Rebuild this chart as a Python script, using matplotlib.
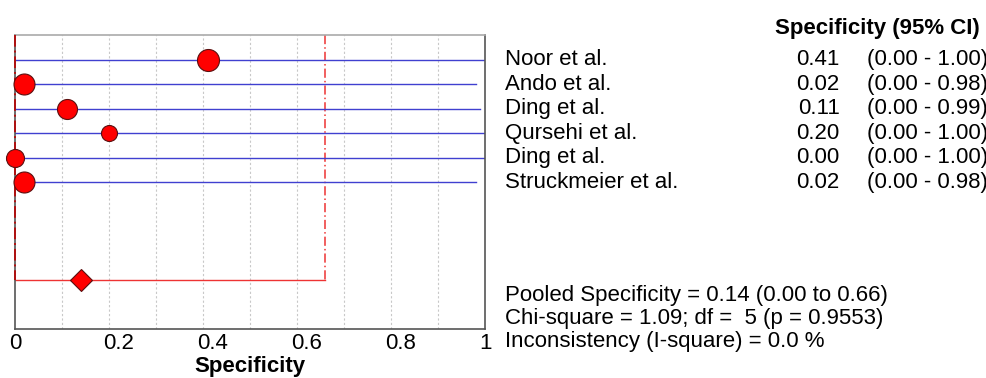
import matplotlib
matplotlib.use("Agg")
import matplotlib.pyplot as plt
from matplotlib.transforms import ScaledTranslation
import numpy as np

plt.rcParams['font.family'] = ['Liberation Sans', 'DejaVu Sans']

# Данные исследований
studies = ['Noor et al.', 'Ando et al.', 'Ding et al.', 'Qursehi et al.', 'Ding et al.', 'Struckmeier et al.']
spec = [0.41, 0.02, 0.11, 0.20, 0.00, 0.02]
ci_low = [0.00, 0.00, 0.00, 0.00, 0.00, 0.00]
ci_high = [1.00, 0.98, 0.99, 1.00, 1.00, 0.98]
weights = [22, 21, 20, 16, 18, 21]  # диаметр маркера (px)

pooled = 0.14
pooled_low = 0.00
pooled_high = 0.66
stats_lines = ['Pooled Specificity = 0.14 (0.00 to 0.66)',
               'Chi-square = 1.09; df =  5 (p = 0.9553)',
               'Inconsistency (I-square) = 0.0 %']
xticks = [0, 0.2, 0.4, 0.6, 0.8, 1]
xtick_labels = ['0', '0.2', '0.4', '0.6', '0.8', '1']

FS = 16

fig = plt.figure(figsize=(9.87, 3.78), dpi=100)
ax = fig.add_axes([0.0152, 0.1296, 0.4762, 0.7778])

rows = np.arange(1, len(studies) + 1)
pooled_row = len(studies) + 4

# Сетка
for g in np.arange(0.1, 1.0, 0.1):
    ax.axvline(g, color='#c8c8c8', linestyle=(0, (2, 2)), linewidth=0.8, zorder=0)

# Доверительные интервалы и точки
for y, s, lo, hi, w in zip(rows, spec, ci_low, ci_high, weights):
    ax.plot([lo, hi], [y, y], color='#4040d0', linewidth=1.0, zorder=2)
    ax.plot(s, y, 'o', markersize=w * 0.72, markerfacecolor='red',
            markeredgecolor='#5a1010', markeredgewidth=0.8, zorder=4, clip_on=False)

# Объединённая оценка
ax.plot([pooled_low, pooled_low], [0, pooled_row], color='#b01010',
        linestyle=(0, (6, 2, 1, 2)), linewidth=1.4, zorder=3, clip_on=False)
ax.plot([pooled_high, pooled_high], [0, pooled_row], color='#ee3333',
        linestyle=(0, (6, 2, 1, 2)), linewidth=1.1, zorder=1)
ax.plot([pooled_low, pooled_high], [pooled_row, pooled_row], color='#ee3333', linewidth=1.0, zorder=2)
ax.plot(pooled, pooled_row, 'D', markersize=11, markerfacecolor='red',
        markeredgecolor='#5a1010', markeredgewidth=0.8, zorder=4)

ax.set_xlim(0, 1)
ax.set_ylim(12, 0)
ax.set_yticks([])
ax.set_xticks(xticks)
ax.set_xticklabels(xtick_labels, fontsize=FS)
ax.tick_params(axis='x', length=0, pad=3)
# подписи тиков в оригинале сдвинуты вправо
for lbl in ax.get_xticklabels()[1:-1]:
    lbl.set_transform(lbl.get_transform() + ScaledTranslation(0.10, 0, fig.dpi_scale_trans))
ax.set_xlabel('Specificity', fontsize=FS, fontweight='bold', labelpad=1)
for sp in ax.spines.values():
    sp.set_color('#555555')
    sp.set_linewidth(1.2)
ax.spines['top'].set_color('#aaaaaa')

# Правая таблица
ax.text(2.053, -0.25, 'Specificity (95% CI)', fontsize=FS, fontweight='bold',
        ha='right', va='center', clip_on=False)
for y, name, s, lo, hi in zip(rows, studies, spec, ci_low, ci_high):
    ax.text(1.043, y, name, fontsize=FS, ha='left', va='center', clip_on=False)
    ax.text(1.755, y, f'{s:.2f}', fontsize=FS, ha='right', va='center', clip_on=False)
    ax.text(1.813, y, f'({lo:.2f} - {hi:.2f})', fontsize=FS, ha='left', va='center', clip_on=False)

for i, line in enumerate(stats_lines):
    ax.text(1.043, pooled_row + 0.64 + i * 0.94, line, fontsize=FS,
            ha='left', va='center', clip_on=False)

fig.savefig('out.png', dpi=100)
